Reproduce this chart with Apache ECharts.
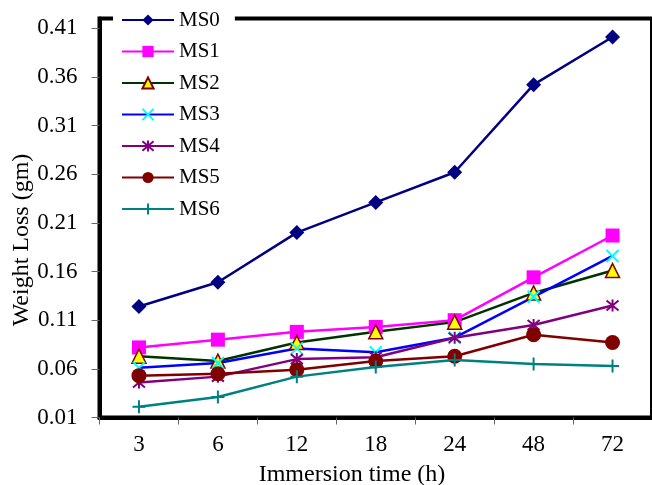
<!DOCTYPE html>
<html>
<head>
<meta charset="utf-8">
<script src="https://cdn.jsdelivr.net/npm/echarts@6/dist/echarts.min.js"></script>
<style>
html,body{margin:0;padding:0;background:#fff;}
#c{width:652px;height:485px;}
</style>
</head>
<body>
<div id="c"></div>
<script>
const categories = ['3', '6', '12', '18', '24', '48', '72'];
const yTicks = [0.01, 0.06, 0.11, 0.16, 0.21, 0.26, 0.31, 0.36, 0.41];
const ms0 = [0.124, 0.149, 0.200, 0.231, 0.262, 0.352, 0.401];
const ms1 = [0.082, 0.090, 0.098, 0.103, 0.110, 0.154, 0.197];
const ms2 = [0.073, 0.068, 0.087, 0.098, 0.108, 0.138, 0.161];
const ms3 = [0.061, 0.066, 0.081, 0.077, 0.092, 0.134, 0.176];
const ms4 = [0.046, 0.052, 0.070, 0.072, 0.092, 0.105, 0.125];
const ms5 = [0.053, 0.055, 0.059, 0.068, 0.073, 0.095, 0.087];
const ms6 = [0.021, 0.031, 0.052, 0.062, 0.069, 0.065, 0.063];

const FONT = "'Liberation Serif', 'Times New Roman', serif";
const X_PATH = 'path://M0,0L10,10M10,0L0,10';
const STAR_PATH = 'path://M0,0L10,10M10,0L0,10M5,-1L5,11';
const PLUS_PATH = 'path://M5,0L5,10M0,5L10,5';

function mk(name, data, lineColor, symbol, size, item) {
  return {
    name: name, type: 'line', data: data,
    symbol: symbol, symbolSize: size,
    lineStyle: {color: lineColor, width: 2.5},
    itemStyle: item,
    emphasis: {disabled: true}
  };
}

const chart = echarts.init(document.getElementById('c'));
chart.setOption({
  animation: false,
  backgroundColor: '#fff',
  grid: {left: 99.5, right: -8, top: 18.5, bottom: 67.5, show: true, borderColor: '#000', borderWidth: 4, containLabel: false},
  legend: {
    orient: 'vertical', left: 113, top: 5.5,
    padding: [4, 15, 4, 8],
    backgroundColor: '#fff',
    itemWidth: 52, itemHeight: 14, itemGap: 10.5,
    textStyle: {fontFamily: FONT, fontSize: 21, color: '#000', lineHeight: 21, padding: [0, 0, 0, 0]},
    data: ['MS0', 'MS1', 'MS2', 'MS3', 'MS4', 'MS5', 'MS6']
  },
  xAxis: {
    type: 'category', data: categories, boundaryGap: true,
    axisLine: {lineStyle: {color: '#000', width: 4}},
    axisTick: {show: true, length: 7, lineStyle: {color: '#666', width: 1}},
    axisLabel: {fontFamily: FONT, fontSize: 23, color: '#000', margin: 16},
    splitLine: {show: false}
  },
  yAxis: {
    type: 'value', min: 0.01, max: 0.42,
    axisLine: {show: true, lineStyle: {color: '#000', width: 4}},
    axisTick: {show: true, length: 8, customValues: yTicks, lineStyle: {color: '#666', width: 1}},
    axisLabel: {fontFamily: FONT, fontSize: 23, color: '#000', margin: 22, customValues: yTicks,
      formatter: function (v) { return v.toFixed(2); }},
    splitLine: {show: false}
  },
  graphic: [
    {type: 'text', x: 352, y: 474.5, style: {text: 'Immersion time (h)', font: '24px ' + FONT, fill: '#000', textAlign: 'center', textVerticalAlign: 'middle'}},
    {type: 'text', x: 22, y: 240, rotation: Math.PI / 2, style: {text: 'Weight Loss (gm)', font: '24px ' + FONT, fill: '#000', textAlign: 'center', textVerticalAlign: 'middle'}}
  ],
  series: [
    mk('MS0', ms0, '#000080', 'diamond', 15, {color: '#000080'}),
    mk('MS1', ms1, '#FF00FF', 'rect', 14, {color: '#FF00FF'}),
    mk('MS2', ms2, '#003300', 'triangle', 14, {color: '#FFFF00', borderColor: '#800000', borderWidth: 1.5}),
    mk('MS3', ms3, '#0000FF', X_PATH, 12, {color: '#00FFFF', borderColor: '#00FFFF', borderWidth: 2}),
    mk('MS4', ms4, '#800080', STAR_PATH, 12, {color: '#800080', borderColor: '#800080', borderWidth: 2}),
    mk('MS5', ms5, '#800000', 'circle', 15, {color: '#800000'}),
    mk('MS6', ms6, '#008080', PLUS_PATH, 13, {color: '#008080', borderColor: '#008080', borderWidth: 2})
  ]
});
</script>
</body>
</html>
